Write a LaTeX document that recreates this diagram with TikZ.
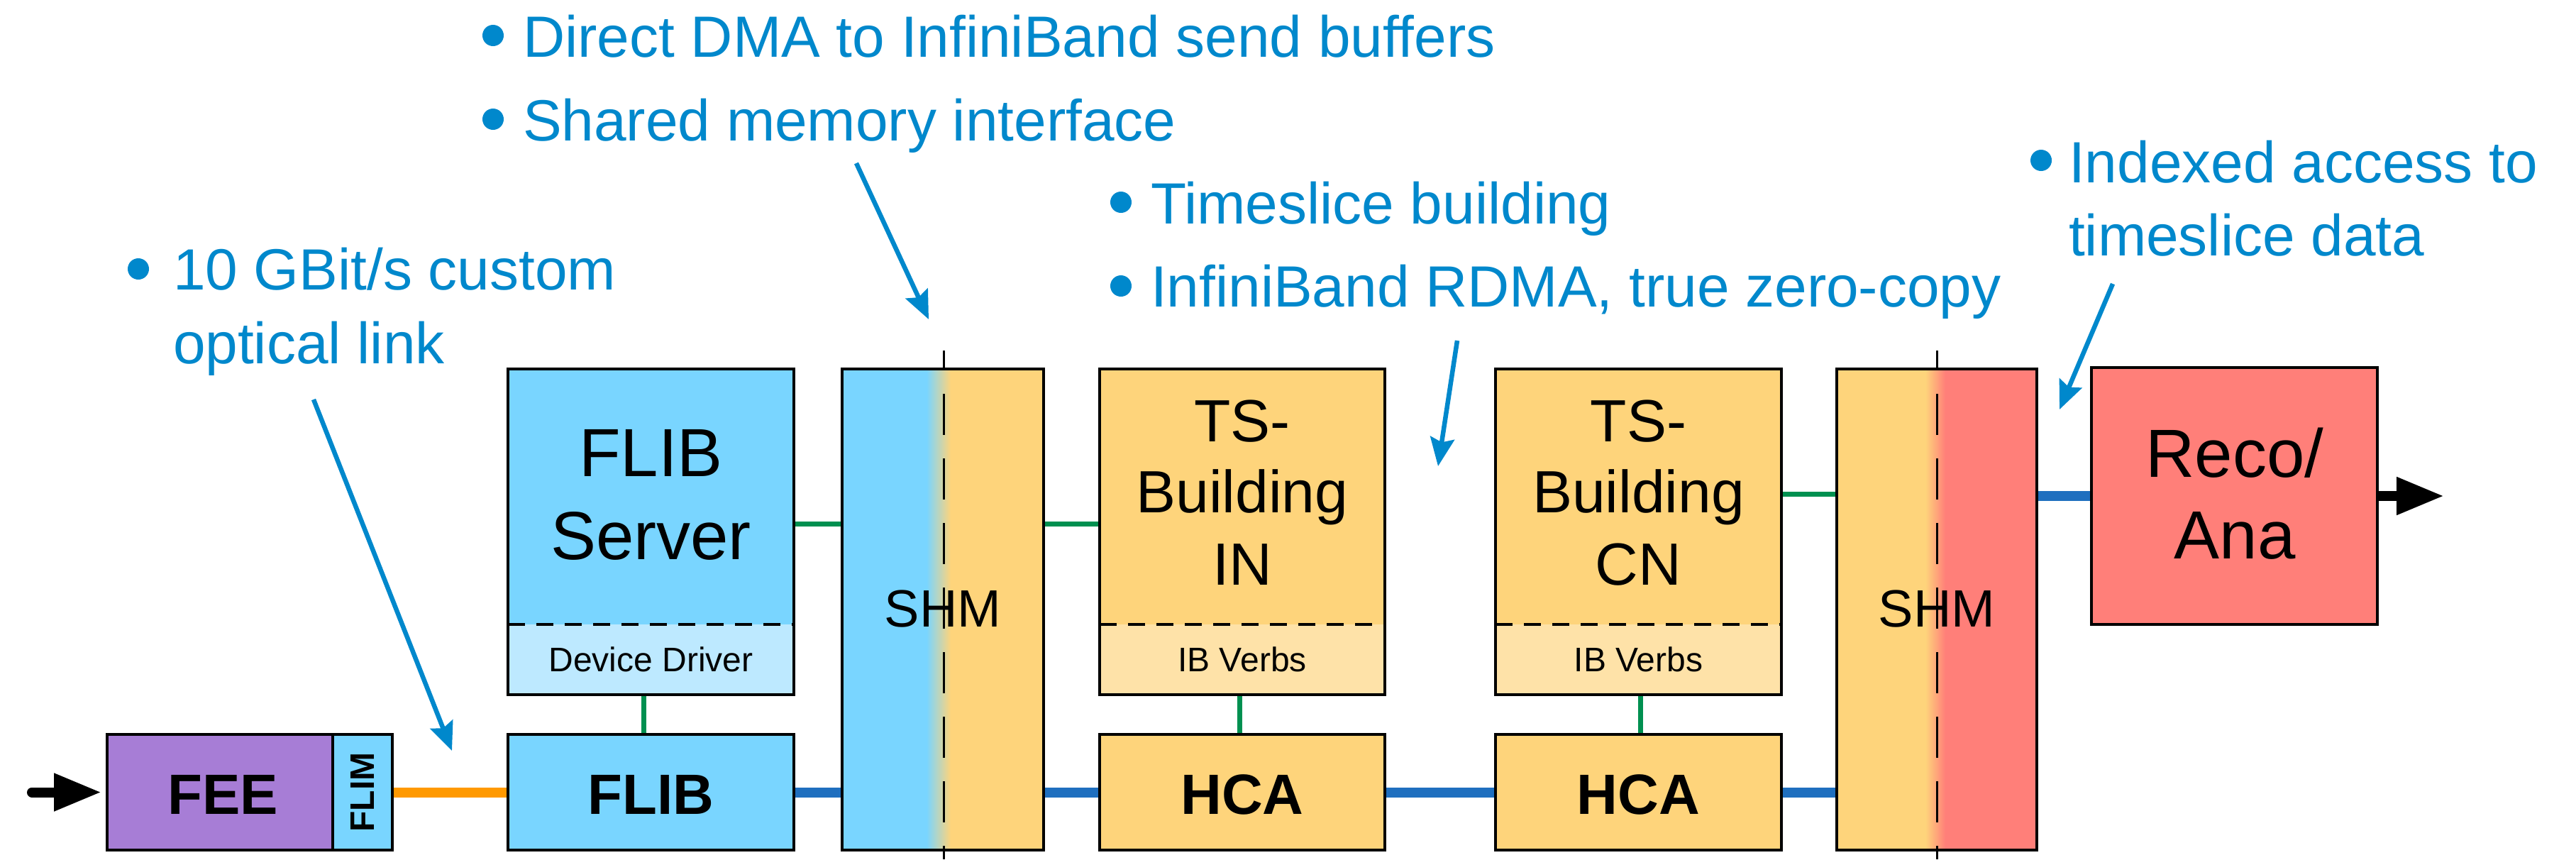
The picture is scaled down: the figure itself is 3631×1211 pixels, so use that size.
\documentclass[tikz,border=0pt]{standalone}
\usepackage{fontspec}
\setmainfont{Liberation Sans}
\usetikzlibrary{arrows.meta,calc}
\definecolor{lblue}{RGB}{121,213,255}
\definecolor{llblue}{RGB}{189,233,255}
\definecolor{purp}{RGB}{167,125,214}
\definecolor{lorange}{RGB}{254,212,123}
\definecolor{llorange}{RGB}{254,226,168}
\definecolor{lred}{RGB}{255,127,121}
\definecolor{annblue}{RGB}{0,136,204}
\definecolor{datablue}{RGB}{31,111,191}
\definecolor{ctrlgreen}{RGB}{0,144,80}
\definecolor{linkorange}{RGB}{255,153,0}
\newcommand\fsBig{\fontsize{96pt}{115pt}\selectfont}
\newcommand\fsMid{\fontsize{84pt}{101pt}\selectfont}
\newcommand\fsShm{\fontsize{74pt}{89pt}\selectfont}
\newcommand\fsSmall{\fontsize{48pt}{58pt}\selectfont}
\newcommand\fsBold{\fontsize{80pt}{96pt}\selectfont\bfseries}
\newcommand\fsFlim{\fontsize{48pt}{58pt}\selectfont\bfseries}
\newcommand\fsAnn{\fontsize{82pt}{99pt}\selectfont}
\begin{document}
\begin{tikzpicture}[x=1pt,y=-1pt,
  box/.style={draw=black, line width=4.5pt, inner sep=0pt, outer sep=0pt},
  sepline/.style={draw=black, line width=4pt, dash pattern=on 24pt off 16pt},
  splitbox/.style n args={3}{fill=#2, path picture={
     \fill[#1] (path picture bounding box.north west) rectangle ([yshift=-#3]path picture bounding box.north east);
     \draw[sepline] ([yshift=-#3]path picture bounding box.north west) -- ([yshift=-#3]path picture bounding box.north east);}},
  shmfill/.style n args={4}{path picture={
     \fill[#1] (path picture bounding box.south west) rectangle ([xshift=#3]path picture bounding box.north west);
     \shade[left color=#1,right color=#2] ([xshift=#3]path picture bounding box.south west) rectangle ([xshift=#4]path picture bounding box.north west);
     \fill[#2] ([xshift=#4]path picture bounding box.south west) rectangle (path picture bounding box.north east);}},
  lbl/.style={inner sep=0pt, outer sep=0pt, anchor=base, text=black},
  ann/.style={inner sep=0pt, outer sep=0pt, anchor=base west, text=annblue, font=\fsAnn},
  bulletdot/.style={circle, fill=annblue, inner sep=0pt, minimum size=30pt},
  annarrow/.style={draw=annblue, line width=6.5pt, -{Stealth[length=40pt,width=34pt,inset=6pt]}},
  data/.style={draw=datablue, line width=14pt, shorten <=2pt, shorten >=2pt},
  link/.style={draw=linkorange, line width=14pt, shorten <=2pt, shorten >=2pt},
  ctrl/.style={draw=ctrlgreen, line width=7pt, shorten <=2pt, shorten >=2pt},
  bigarrow/.style={draw=black, line width=14pt, -{Triangle[length=67pt,width=50pt]}},
  vdash/.style={draw=black, line width=3pt, dash pattern=on 58pt off 33pt, dash phase=30pt}
]
\useasboundingbox (0,0) rectangle (3631,1211);
\fill[white] (0,0) rectangle (3631,1211);

% ---------- boxes ----------
\node[box, fill=purp, minimum width=318pt, minimum height=163pt] (fee) at (310,1116.5) {};
\node[box, fill=lblue, minimum width=84pt, minimum height=163pt] (flim) at (511,1116.5) {};
\node[box, splitbox={lblue}{llblue}{360pt}, minimum width=403pt, minimum height=459pt] (fsrv) at (917.5,749.5) {};
\node[box, fill=lblue, minimum width=403pt, minimum height=163pt] (flib) at (917.5,1116.5) {};
\node[box, shmfill={lblue}{lorange}{119pt}{153pt}, minimum width=284pt, minimum height=678pt] (shm1) at (1329,859) {};
\node[box, splitbox={lorange}{llorange}{360pt}, minimum width=402pt, minimum height=459pt] (tsin) at (1751,749.5) {};
\node[box, fill=lorange, minimum width=402pt, minimum height=163pt] (hca1) at (1751,1116.5) {};
\node[box, splitbox={lorange}{llorange}{360pt}, minimum width=403pt, minimum height=459pt] (tscn) at (2309.5,749.5) {};
\node[box, fill=lorange, minimum width=403pt, minimum height=163pt] (hca2) at (2309.5,1116.5) {};
\node[box, shmfill={lorange}{lred}{125pt}{153pt}, minimum width=282pt, minimum height=678pt] (shm2) at (2730,859) {};
\node[box, fill=lred, minimum width=403pt, minimum height=362pt] (reco) at (3149.5,699) {};

% ---------- SHM split lines ----------
\coordinate (d1top) at (1330,494);
\coordinate (d1bot) at (1330,1211);
\coordinate (d2top) at (2730,494);
\coordinate (d2bot) at (2730,1211);
\draw[vdash] (d1top) -- (d1bot);
\draw[vdash] (d2top) -- (d2bot);

% ---------- connectors ----------
\coordinate (gy1) at (0,738);
\coordinate (gy2) at (0,696);
\draw[link] (flim.east) -- (flib.west);
\draw[data] (flib.east) -- (flib.east -| shm1.west);
\draw[data] (shm1.east |- hca1.west) -- (hca1.west);
\draw[data] (hca1.east) -- (hca2.west);
\draw[data] (hca2.east) -- (hca2.east -| shm2.west);
\draw[data] (shm2.east |- reco.west) -- (reco.west);
\draw[ctrl] (fsrv.east |- gy1) -- (shm1.west |- gy1);
\draw[ctrl] (shm1.east |- gy1) -- (tsin.west |- gy1);
\draw[ctrl] (tscn.east |- gy2) -- (shm2.west |- gy2);
\draw[ctrl] ($(fsrv.south)+(-10,0)$) -- ($(flib.north)+(-10,0)$);
\draw[ctrl] ($(tsin.south)+(-4,0)$) -- ($(hca1.north)+(-4,0)$);
\draw[ctrl] ($(tscn.south)+(2.5,0)$) -- ($(hca2.north)+(2.5,0)$);

\coordinate (in) at (45,1116.5);
\coordinate (out) at (3445,699);
\draw[bigarrow, line cap=round] (in) -- ([xshift=-8pt]fee.west);
\draw[bigarrow] ([xshift=2pt]reco.east) -- (out);

% ---------- box texts ----------
\node[lbl, font=\fsBold] (tfee) at (314,1147) {FEE};
\node[lbl, font=\fsFlim, rotate=90, anchor=center] (tflim) at (flim.center) {FLIM};
\node[lbl, font=\fsBig] (tfsrv1) at (917.5,671) {FLIB};
\node[lbl, font=\fsBig] (tfsrv2) at (917.5,788) {Server};
\node[lbl, font=\fsSmall] (tdrv) at (917.5,946) {Device Driver};
\node[lbl, font=\fsBold] (tflib) at (917.5,1147) {FLIB};
\node[lbl, font=\fsShm] (tshm1) at (1329,883) {SHM};
\node[lbl, font=\fsMid] (tin1) at (1751,622) {TS-};
\node[lbl, font=\fsMid] (tin2) at (1751,722) {Building};
\node[lbl, font=\fsMid] (tin3) at (1751,824) {IN};
\node[lbl, font=\fsSmall] (tibv1) at (1751,946) {IB Verbs};
\node[lbl, font=\fsBold] (thca1) at (1751,1147) {HCA};
\node[lbl, font=\fsMid] (tcn1) at (2309.5,622) {TS-};
\node[lbl, font=\fsMid] (tcn2) at (2309.5,722) {Building};
\node[lbl, font=\fsMid] (tcn3) at (2309.5,824) {CN};
\node[lbl, font=\fsSmall] (tibv2) at (2309.5,946) {IB Verbs};
\node[lbl, font=\fsBold] (thca2) at (2309.5,1147) {HCA};
\node[lbl, font=\fsShm] (tshm2) at (2730,883) {SHM};
\node[lbl, font=\fsBig] (treco1) at (3150,672) {Reco/};
\node[lbl, font=\fsBig] (treco2) at (3150,787) {Ana};

% ---------- annotations ----------
\node[bulletdot] (b1) at (195,379) {};
\node[ann] (a1l1) at (244,408) {10 GBit/s custom};
\node[ann] (a1l2) at (244,512) {optical link};

\node[bulletdot] (b2) at (695,50) {};
\node[ann] (a2l1) at (737,80) {Direct DMA to InfiniBand send buffers};
\node[bulletdot] (b3) at (695,168) {};
\node[ann] (a2l2) at (737,198) {Shared memory interface};

\node[bulletdot] (b4) at (1580,285) {};
\node[ann] (a3l1) at (1622,315) {Timeslice building};
\node[bulletdot] (b5) at (1580,403) {};
\node[ann] (a3l2) at (1622,432) {InfiniBand RDMA, true zero-copy};

\node[bulletdot] (b6) at (2877,226) {};
\node[ann] (a4l1) at (2916,257) {Indexed access to};
\node[ann] (a4l2) at (2916,360) {timeslice data};

\coordinate (p1s) at (442,563);
\coordinate (p1e) at (637,1058);
\coordinate (p2s) at (1207,230);
\coordinate (p2e) at (1309,450);
\coordinate (p3s) at (2054,480);
\coordinate (p3e) at (2027,657);
\coordinate (p4s) at (2978,400);
\coordinate (p4e) at (2903,577);
\draw[annarrow] (p1s) -- (p1e);
\draw[annarrow] (p2s) -- (p2e);
\draw[annarrow] (p3s) -- (p3e);
\draw[annarrow] (p4s) -- (p4e);
\end{tikzpicture}
\end{document}
